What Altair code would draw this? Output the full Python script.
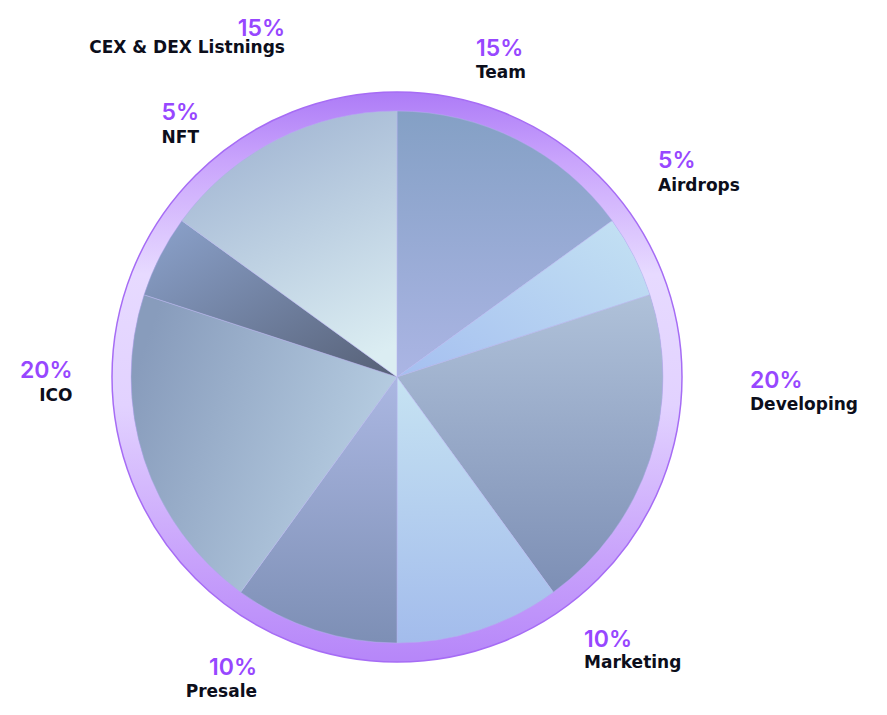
import math
import altair as alt
import pandas as pd

# ---------------- data ----------------
categories = ["Team", "Airdrops", "Developing", "Marketing", "Presale", "ICO", "NFT", "CEX & DEX Listnings"]
shares = [15, 5, 20, 10, 10, 20, 5, 15]
pct_labels = ["15%", "5%", "20%", "10%", "10%", "20%", "5%", "15%"]

# ---------------- annotation layout (px offsets from pie centre) ----------------
label_dx = [79, 261, 353, 187, -140, -324.5, -198, -112]
pct_dy = [-321, -209, 11, 270, 298, 1, -257, -341]
name_dy = [-299, -186, 33, 291, 320, 24, -234, -324]
label_align = ["left", "left", "left", "left", "right", "right", "right", "right"]

# ---------------- styles ----------------
def grad(c0, c1, x1=0, y1=0, x2=0, y2=1):
    return alt.Gradient(
        gradient="linear",
        stops=[alt.GradientStop(color=c0, offset=0), alt.GradientStop(color=c1, offset=1)],
        x1=x1, y1=y1, x2=x2, y2=y2,
    )

slice_fill = {
    "Team": grad("#84a0c5", "#abb5e4"),
    "Airdrops": grad("#a5bff0", "#c4e2f3", 0, 1, 1, 0),
    "Developing": grad("#afc1d9", "#7d8fb5"),
    "Marketing": grad("#c6e3f2", "#a3bcec"),
    "Presale": grad("#abb7e2", "#7d8fb5"),
    "ICO": grad("#889cbc", "#bcd3e6", 0, 0.3, 1, 0.7),
    "NFT": grad("#8ca3cd", "#566076", 0, 0, 1, 1),
    "CEX & DEX Listnings": grad("#a0b4d2", "#dbedf2", 0.3, 0, 0.7, 1),
}

ring_fill = alt.Gradient(
    gradient="linear",
    stops=[
        alt.GradientStop(color="#ad7bf7", offset=0),
        alt.GradientStop(color="#c9a4fc", offset=0.12),
        alt.GradientStop(color="#e7daff", offset=0.32),
        alt.GradientStop(color="#e2d2ff", offset=0.55),
        alt.GradientStop(color="#c8a2fb", offset=0.82),
        alt.GradientStop(color="#b686f9", offset=1),
    ],
    x1=0, y1=0, x2=0, y2=1,
)

PCT_COLOR = "#9747FF"
NAME_COLOR = "#0c0e1b"
R_PIE = 266
R_RING = 285

# ---------------- tables ----------------
ends = []
acc = 0
for s in shares:
    acc += s
    ends.append(acc)
starts = [e - s for e, s in zip(ends, shares)]

def polar(dx, dy):
    ang = math.atan2(dx, -dy) % (2 * math.pi)
    return ang / (2 * math.pi) * 100, math.hypot(dx, dy)

rows = []
for i, c in enumerate(categories):
    pt, pr = polar(label_dx[i], pct_dy[i])
    nt, nr = polar(label_dx[i], name_dy[i])
    rows.append(dict(category=c, share=shares[i], start=starts[i], end=ends[i],
                     pct=pct_labels[i], align=label_align[i],
                     pt=pt, pr=pr, nt=nt, nr=nr))
df = pd.DataFrame(rows)
ring_df = pd.DataFrame({"start": [0], "end": [100]})

theta_scale = alt.Scale(domain=[0, 100], range=[0, 2 * math.pi])
radius_scale = alt.Scale(type="linear", domain=[0, 400], range=[0, 400], zero=True)

# ---------------- layers ----------------
layers = []
ring = alt.Chart(ring_df).mark_arc(
    radius=R_RING, radius2=R_PIE - 1, fill=ring_fill, stroke="#a66cf5", strokeWidth=1.5
).encode(
    theta=alt.Theta("start:Q", scale=theta_scale, stack=None),
    theta2="end:Q",
)
layers.append(ring)

for c in categories:
    layers.append(
        alt.Chart(df).transform_filter(alt.datum.category == c).mark_arc(
            radius=R_PIE, fill=slice_fill[c], stroke="#b7b3ee", strokeWidth=0.5
        ).encode(
            theta=alt.Theta("start:Q", scale=theta_scale, stack=None),
            theta2="end:Q",
            tooltip=["category:N", "share:Q"],
        )
    )

for al in ["left", "right"]:
    layers.append(
        alt.Chart(df).transform_filter(alt.datum.align == al).mark_text(
            align=al, baseline="alphabetic", font="Inter", fontSize=23, fontWeight=600, color=PCT_COLOR
        ).encode(
            theta=alt.Theta("pt:Q", scale=theta_scale, stack=None),
            radius=alt.Radius("pr:Q", scale=radius_scale),
            text="pct:N",
        )
    )
    layers.append(
        alt.Chart(df).transform_filter(alt.datum.align == al).mark_text(
            align=al, baseline="alphabetic", font="DejaVu Sans", fontSize=17, fontWeight="bold", color=NAME_COLOR
        ).encode(
            theta=alt.Theta("nt:Q", scale=theta_scale, stack=None),
            radius=alt.Radius("nr:Q", scale=radius_scale),
            text="category:N",
        )
    )

chart = alt.layer(*layers).properties(
    width=778,
    height=658,
    padding={"left": 0, "top": 40, "right": 90, "bottom": 0},
    autosize=alt.AutoSizeParams(type="none"),
    background="white",
).configure_view(stroke=None)

chart.save("out.html", embed_options={"renderer": "svg", "actions": False})
